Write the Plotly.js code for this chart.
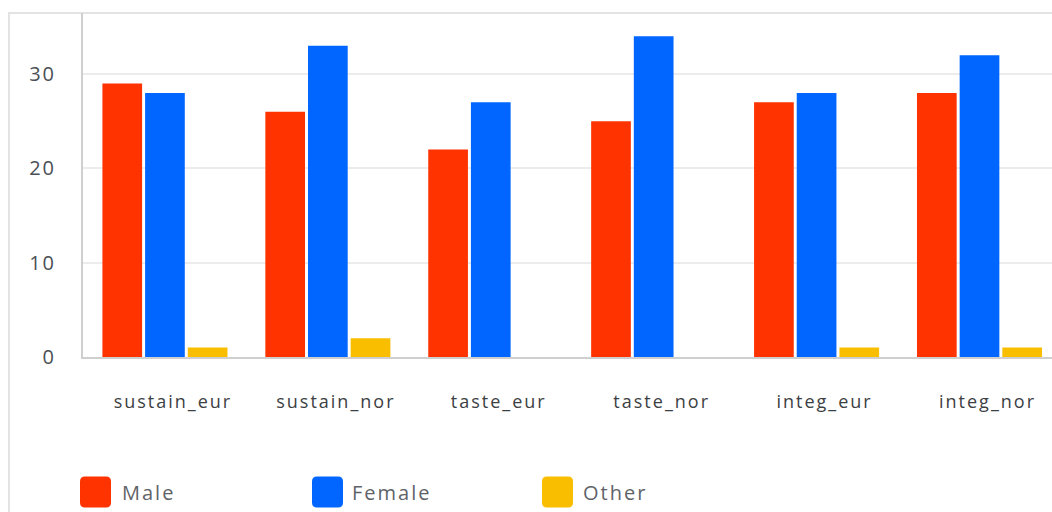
<!DOCTYPE html>
<html>
<head>
<meta charset="utf-8">
<script src="https://cdn.plot.ly/plotly-3.0.1.min.js"></script>
<style>
  html, body { margin: 0; padding: 0; background: #ffffff; }
  #chart { width: 1052px; height: 512px; }
  /* airy lettering for axis labels and legend */
  #chart .xtick text, #chart .ytick text, #chart .annotation-text { letter-spacing: 2px; }
</style>
</head>
<body>
<div id="chart"></div>
<script>
// Survey answers by gender for each question group
const categories = ['sustain_eur', 'sustain_nor', 'taste_eur', 'taste_nor', 'integ_eur', 'integ_nor'];
const seriesNames = ['Male', 'Female', 'Other'];
const maleValues = [29, 26, 22, 25, 27, 28];
const femaleValues = [28, 33, 27, 34, 28, 32];
const otherValues = [1, 2, 0, 0, 1, 1];
const seriesColors = ['#ff3300', '#0066ff', '#f9be00'];
const yTicks = [0, 10, 20, 30];

const W = 1052, H = 512;
const margin = { l: 83, r: 0, t: 13, b: 155 };
const plotW = W - margin.l - margin.r;
const plotH = H - margin.t - margin.b;
const FONT = '"Open Sans", "Noto Sans", sans-serif';

const seriesValues = [maleValues, femaleValues, otherValues];
const traces = seriesNames.map((name, i) => ({
  type: 'bar',
  name: name,
  x: categories,
  y: seriesValues[i],
  marker: { color: seriesColors[i], line: { width: 0 } },
  hoverinfo: 'x+y+name',
  showlegend: false
}));

// Pixel helpers for paper coordinates (relative to the plot area)
const px = x => (x - margin.l) / plotW;
const py = y => (H - margin.b - y) / plotH;

const shapes = [
  // outer card frame: top and left edges
  { type: 'line', xref: 'paper', yref: 'paper', x0: px(8), x1: px(W), y0: py(13), y1: py(13),
    line: { color: '#e3e3e3', width: 2 }, layer: 'below' },
  { type: 'line', xref: 'paper', yref: 'paper', x0: px(9), x1: px(9), y0: py(13), y1: py(H + 2),
    line: { color: '#e3e3e3', width: 2 }, layer: 'below' }
];
const annotations = [];

// Legend with large rounded swatches below the chart
const legendX = [80, 312, 542];
const legendY = 492;
const sw = 31, rad = 5;
seriesNames.forEach((name, i) => {
  const x0 = legendX[i], y0 = legendY - sw / 2, x1 = x0 + sw, y1 = y0 + sw;
  const p = (x, y) => px(x) + ',' + py(y);
  const path = 'M' + p(x0 + rad, y0) + ' L' + p(x1 - rad, y0) +
    ' Q' + p(x1, y0) + ' ' + p(x1, y0 + rad) +
    ' L' + p(x1, y1 - rad) + ' Q' + p(x1, y1) + ' ' + p(x1 - rad, y1) +
    ' L' + p(x0 + rad, y1) + ' Q' + p(x0, y1) + ' ' + p(x0, y1 - rad) +
    ' L' + p(x0, y0 + rad) + ' Q' + p(x0, y0) + ' ' + p(x0 + rad, y0) + ' Z';
  shapes.push({ type: 'path', xref: 'paper', yref: 'paper', path: path,
    fillcolor: seriesColors[i], line: { width: 0 } });
  annotations.push({ xref: 'paper', yref: 'paper', x: px(x1 + 13), y: py(legendY),
    xanchor: 'left', yanchor: 'middle', showarrow: false, text: name,
    font: { family: FONT, size: 20, color: '#5f6368' } });
});

const layout = {
  width: W, height: H,
  margin: margin,
  paper_bgcolor: '#ffffff',
  plot_bgcolor: '#ffffff',
  barmode: 'group',
  bargap: 0.214,
  bargroupgap: 0.07,
  showlegend: false,
  font: { family: FONT, color: '#444' },
  xaxis: {
    type: 'category',
    range: [-0.503, 5.445],
    showgrid: false,
    showline: true,
    linecolor: '#cfcfcf',
    linewidth: 2,
    ticks: '',
    ticklabelstandoff: 27,
    ticklabelshift: 8,
    tickfont: { family: FONT, size: 18, color: '#3c4043' },
    zeroline: false,
    fixedrange: true
  },
  yaxis: {
    range: [0, 36.47],
    tickvals: yTicks,
    ticktext: yTicks.map(String),
    showgrid: true,
    gridcolor: '#ececec',
    gridwidth: 2,
    showline: true,
    linecolor: '#cfcfcf',
    linewidth: 2,
    zeroline: false,
    ticks: '',
    ticklabelstandoff: 21,
    tickfont: { family: FONT, size: 20, color: '#4a4f55' },
    fixedrange: true
  },
  shapes: shapes,
  annotations: annotations
};

Plotly.newPlot('chart', traces, layout, { displayModeBar: false, staticPlot: true });
</script>
</body>
</html>
